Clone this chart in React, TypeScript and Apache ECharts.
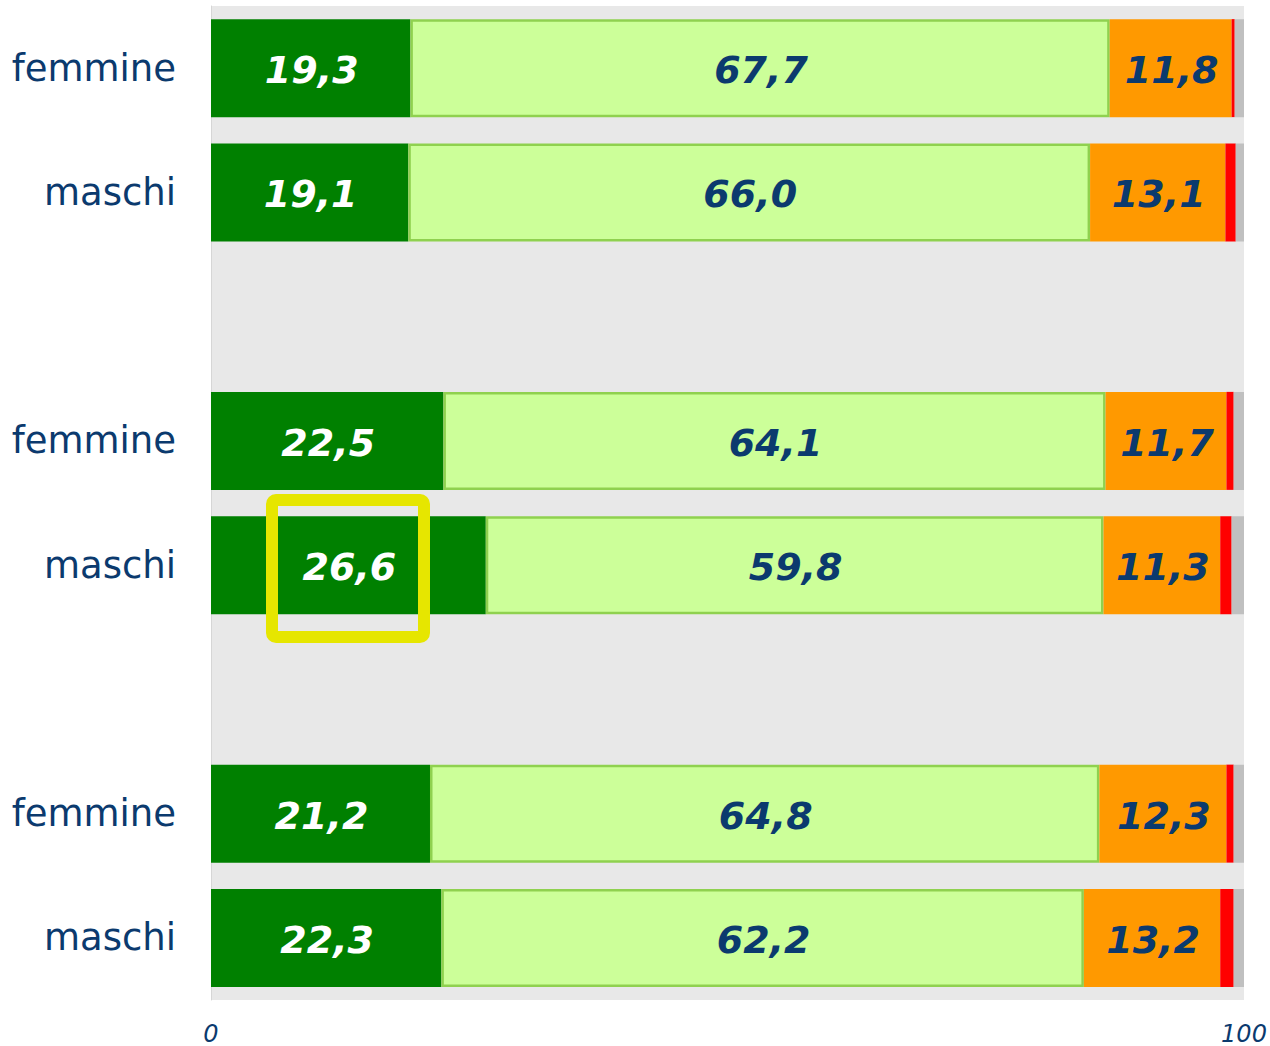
import React, { useEffect, useRef } from "react";
import * as echarts from "echarts";

const categories = ["femmine", "maschi", "", "femmine", "maschi", "", "femmine", "maschi"];
const molto = [19.3, 19.1, null, 22.5, 26.6, null, 21.2, 22.3];
const abbastanza = [67.7, 66.0, null, 64.1, 59.8, null, 64.8, 62.2];
const poco = [11.8, 13.1, null, 11.7, 11.3, null, 12.3, 13.2];
const perNiente = [0.3, 1.0, null, 0.7, 1.1, null, 0.7, 1.3];
const nonIndicato = [0.9, 0.8, null, 1.0, 1.2, null, 1.0, 1.0];
const xTicks = [0, 100];

const NAVY = "#0b3a6e";
const fmt = (v: number) => v.toFixed(1).replace(".", ",");

export default function App() {
  const ref = useRef<HTMLDivElement>(null);
  useEffect(() => {
    if (!ref.current) return;
    const chart = echarts.init(ref.current, null, { renderer: "svg" });
    const label = (color: string) => ({
      show: true,
      position: "inside" as const,
      offset: [1, 2],
      color,
      fontFamily: "DejaVu Sans",
      fontSize: 38,
      fontWeight: "bold" as const,
      fontStyle: "italic" as const,
      formatter: (p: any) => fmt(p.value),
    });
    const base = {
      type: "bar" as const,
      stack: "tot",
      barWidth: 98,
    };
    chart.setOption({
      animation: false,
      grid: {
        left: 211,
        right: 26,
        top: 6,
        bottom: 46,
        show: true,
        backgroundColor: "#e8e8e8",
        borderWidth: 0,
      },
      xAxis: {
        type: "value",
        min: xTicks[0],
        max: xTicks[1],
        interval: xTicks[1] - xTicks[0],
        splitLine: { show: false },
        axisLine: { show: false },
        axisTick: { show: false },
        axisLabel: {
          color: NAVY,
          fontFamily: "DejaVu Sans",
          fontSize: 24,
          fontStyle: "italic",
          margin: 22,
          showMinLabel: true,
          showMaxLabel: true,
        },
      },
      yAxis: {
        type: "category",
        inverse: true,
        data: categories,
        axisLine: { show: true, lineStyle: { color: "#d6d6d6", width: 1 } },
        axisTick: { show: false },
        axisLabel: {
          color: NAVY,
          fontFamily: "DejaVu Sans",
          fontSize: 37,
          margin: 35,
        },
      },
      series: [
        {
          ...base,
          name: "molto",
          data: molto,
          itemStyle: { color: "#008000" },
          label: label("#ffffff"),
        },
        {
          ...base,
          name: "abbastanza",
          data: abbastanza,
          itemStyle: { color: "#ccff99", borderColor: "#8fd14f", borderWidth: 2.5 },
          label: label(NAVY),
        },
        {
          ...base,
          name: "poco",
          data: poco,
          itemStyle: { color: "#ff9900" },
          label: label(NAVY),
        },
        {
          ...base,
          name: "per niente",
          data: perNiente,
          itemStyle: { color: "#ff0000" },
        },
        {
          ...base,
          name: "non indicato",
          data: nonIndicato,
          itemStyle: { color: "#c0c0c0" },
        },
      ],
      graphic: [
        {
          type: "rect",
          shape: { x: 272, y: 500, width: 152, height: 137, r: 4 },
          style: { fill: "none", stroke: "#e6e600", lineWidth: 12 },
          z: 100,
        },
      ],
    });
    return () => chart.dispose();
  }, []);
  return <div ref={ref} style={{ width: 1270, height: 1046, position: "absolute", left: 0, top: 0 }} />;
}
